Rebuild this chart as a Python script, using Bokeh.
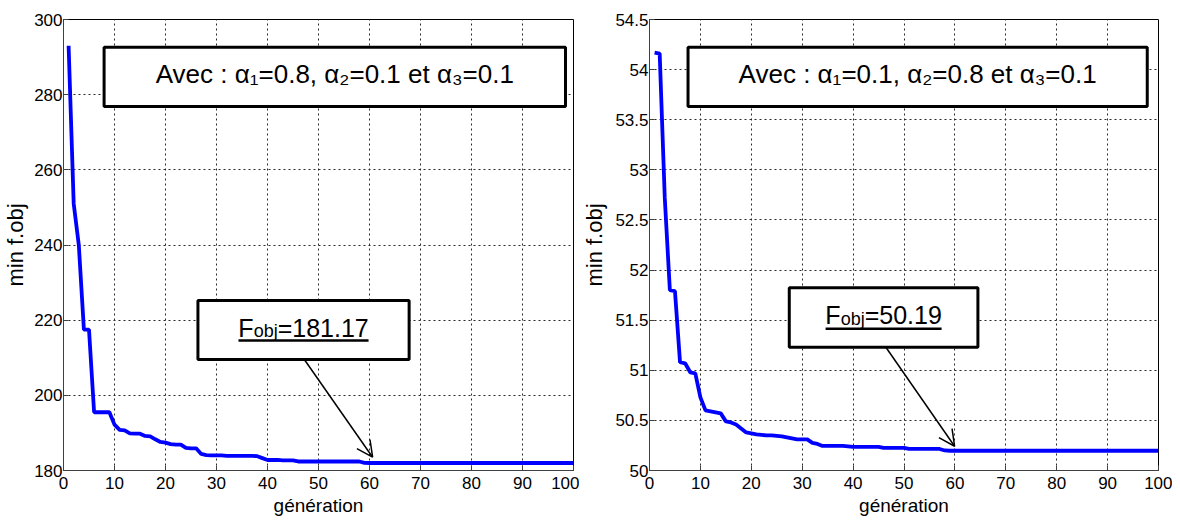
from bokeh.plotting import figure
from bokeh.models import (BoxAnnotation, Label, Arrow, OpenHead,
                          FixedTicker, Range1d, CustomJSTickFormatter)
from bokeh.layouts import row
from bokeh.embed import file_html
from bokeh.resources import INLINE

# ---------------- data ----------------
generations = list(range(1, 101))

fobj_case1 = ([293.0, 251.0, 240.0, 217.5, 217.5, 195.5, 195.5, 195.5, 195.5, 192.2,
               190.8, 190.7, 189.9, 189.8, 189.8, 189.2, 189.1, 188.3, 187.6, 187.4,
               187.0, 186.9, 186.9, 186.0, 185.9, 185.9, 184.4, 184.1, 184.0, 184.0,
               184.0, 183.9, 183.9, 183.9, 183.9, 183.9, 183.9, 183.8, 183.3, 182.8,
               182.8, 182.8, 182.7, 182.7, 182.7, 182.4, 182.4, 182.4, 182.4, 182.4,
               182.4, 182.4, 182.4, 182.4, 182.4, 182.4, 182.4, 182.4, 182.05]
              + [182.0] * 41)

fobj_case2 = ([54.17, 54.16, 52.72, 51.80, 51.79, 51.08, 51.07, 50.98, 50.97, 50.73,
               50.60, 50.59, 50.58, 50.57, 50.49, 50.48, 50.46, 50.42, 50.38, 50.37,
               50.36, 50.355, 50.35, 50.35, 50.345, 50.34, 50.33, 50.32, 50.31, 50.31,
               50.31, 50.275, 50.265, 50.245, 50.245, 50.245, 50.245, 50.245, 50.24, 50.235,
               50.235, 50.235, 50.235, 50.235, 50.235, 50.225, 50.225, 50.225, 50.225, 50.225,
               50.215, 50.215, 50.215, 50.215, 50.215, 50.215, 50.215, 50.20]
              + [50.197] * 42)

x_ticks = [0, 10, 20, 30, 40, 50, 60, 70, 80, 90, 100]
y_ticks_case1 = [180, 200, 220, 240, 260, 280, 300]
y_ticks_case2 = [50, 50.5, 51, 51.5, 52, 52.5, 53, 53.5, 54, 54.5]

title_case1 = "Avec : α₁=0.8, α₂=0.1 et α₃=0.1"
title_case2 = "Avec : α₁=0.1, α₂=0.8 et α₃=0.1"
final_case1 = "=181.17"
final_case2 = "=50.19"

x_label = "génération"
y_label = "min f.obj"

# annotation placement (data coordinates)
ann1 = dict(box=(7.96, 98.43, 276.85, 292.63), text_y=285.39,
            fbox=(26.36, 67.77, 209.53, 225.23), f_mid=217.92, f_ul=214.59,
            arrow=(47.22, 209.53, 60.61, 183.54))
ann2 = dict(box=(7.57, 97.79, 53.632, 54.224), text_y=53.952,
            fbox=(27.46, 64.52, 51.230, 51.823), f_mid=51.550, f_ul=51.414,
            arrow=(46.44, 51.230, 59.94, 50.242))

FONT = "Liberation Sans"

AW = {"F": .611, "o": .556, "b": .556, "j": .222, "=": .584, ".": .278}
def tw(s, size):
    return sum(AW.get(c, .556) for c in s) * size

FRAME_W = 511


def make(vals, yticks, yr, ann, title, final, width, left_border, right_border,
         ylabel_standoff):
    p = figure(width=width, height=520, x_range=Range1d(0, 100),
               y_range=Range1d(*yr), output_backend="svg", toolbar_location=None,
               min_border_left=left_border, min_border_top=19, min_border_bottom=50,
               min_border_right=right_border, background_fill_color="white",
               border_fill_color="white")
    p.outline_line_color = "black"
    p.outline_line_width = 1

    fmt = CustomJSTickFormatter(code="return String(Math.round(tick*10)/10);")
    for ax, ticks in ((p.xaxis[0], x_ticks), (p.yaxis[0], yticks)):
        ax.ticker = FixedTicker(ticks=ticks)
        ax.formatter = fmt
        ax.major_tick_in = 5
        ax.major_tick_out = 0
        ax.minor_tick_line_color = None
        ax.axis_line_color = "#404040"
        ax.major_tick_line_color = "#404040"
        ax.major_label_text_font = FONT
        ax.major_label_text_font_size = "17px"
        ax.major_label_text_color = "black"
        ax.axis_label_text_font = FONT
        ax.axis_label_text_font_style = "normal"
        ax.axis_label_text_color = "black"
    p.xaxis.axis_label_text_font_size = "19px"
    p.yaxis.axis_label_text_font_size = "22px"
    p.xaxis.major_label_standoff = 6
    p.yaxis.major_label_standoff = 1
    p.xaxis.axis_label = x_label
    p.yaxis.axis_label = y_label
    p.xaxis.axis_label_standoff = 3
    p.yaxis.axis_label_standoff = ylabel_standoff

    for g in (p.xgrid[0], p.ygrid[0]):
        g.grid_line_color = "#2a2a2a"
        g.grid_line_dash = "2 3"
        g.grid_line_width = 1
    p.xgrid.ticker = FixedTicker(ticks=x_ticks)
    p.ygrid.ticker = FixedTicker(ticks=yticks)

    p.line(generations, vals, line_color="#0000FF", line_width=3.8)

    # title box
    l, r, b, t = ann["box"]
    p.add_layout(BoxAnnotation(left=l, right=r, bottom=b, top=t, fill_color="white",
                               fill_alpha=1, line_color="black", line_alpha=1,
                               line_width=3))
    p.add_layout(Label(x=(l + r) / 2, y=ann["text_y"], text=title, text_align="center",
                       text_baseline="middle", text_font=FONT,
                       text_font_size="26px", text_color="black"))

    # final value box
    l, r, b, t = ann["fbox"]
    p.add_layout(BoxAnnotation(left=l, right=r, bottom=b, top=t, fill_color="white",
                               fill_alpha=1, line_color="black", line_alpha=1,
                               line_width=3))
    cx = (l + r) / 2
    wF, wsub, wrest = tw("F", 25), tw("obj", 18), tw(final, 25)
    W = wF + wsub + wrest
    x0 = -W / 2
    p.add_layout(Label(x=cx, y=ann["f_mid"], x_offset=x0, text="F", text_font=FONT,
                       text_font_size="25px", text_baseline="middle", text_color="black"))
    p.add_layout(Label(x=cx, y=ann["f_mid"], x_offset=x0 + wF, y_offset=-3.5, text="obj",
                       text_font=FONT, text_font_size="18px", text_baseline="middle",
                       text_color="black"))
    p.add_layout(Label(x=cx, y=ann["f_mid"], x_offset=x0 + wF + wsub, text=final,
                       text_font=FONT, text_font_size="25px", text_baseline="middle",
                       text_color="black"))
    px_per_x = FRAME_W / 100.0
    ul = p.segment(x0=[cx + x0 / px_per_x], x1=[cx + (x0 + W) / px_per_x],
                   y0=[ann["f_ul"]], y1=[ann["f_ul"]], line_color="black", line_width=2.5)
    ul.level = "overlay"

    xs, ys, xe, ye = ann["arrow"]
    p.add_layout(Arrow(end=OpenHead(size=16, line_width=1.5, line_color="black"),
                       x_start=xs, y_start=ys, x_end=xe, y_end=ye,
                       line_color="black", line_width=1.5))
    return p


p1 = make(fobj_case1, y_ticks_case1, (180, 300), ann1, title_case1, final_case1,
          579, 62, 6, 3)
p2 = make(fobj_case2, y_ticks_case2, (50, 54.5), ann2, title_case2, final_case2,
          593, 68, 14, 5)

layout = row(p1, p2)
open("out.html", "w").write(file_html(layout, INLINE))
